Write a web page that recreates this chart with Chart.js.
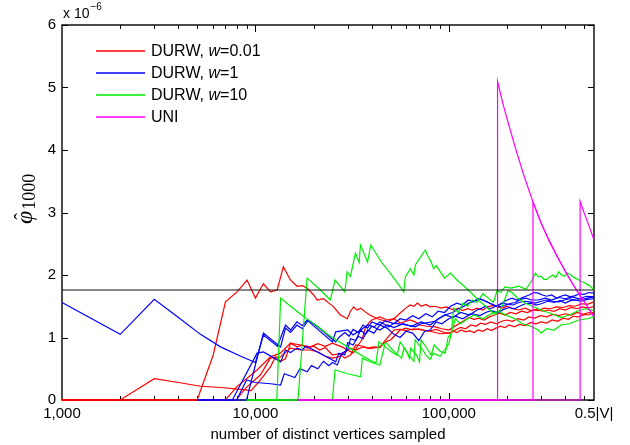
<!DOCTYPE html>
<html>
<head>
<meta charset="utf-8">
<script src="https://cdn.jsdelivr.net/npm/chart.js@4.4.1/dist/chart.umd.min.js"></script>
<style>
  html, body { margin: 0; padding: 0; background: #fff; }
  #wrap { width: 630px; height: 445px; }
</style>
</head>
<body>
<div id="wrap"><canvas id="phiChart" width="630" height="445"></canvas></div>
<script>
// x = distinct vertices sampled, y = estimate in units of 1e-6
const trueValue = 1.76;
const xMin = 1000, xMax = 563000;
const xTickValues = [1000, 10000, 100000, 563000];
const xTickLabels = ['1,000', '10,000', '100,000', '0.5|V|'];
const yTickValues = [0, 1, 2, 3, 4, 5, 6];
const seriesNames = ['DURW, w=0.01', 'DURW, w=1', 'DURW, w=10', 'UNI'];
const seriesColors = ['#ff0000', '#0000ff', '#00ee00', '#ff00ff'];

// DURW, w=0.01 runs: [n, estimate]
const durwW001Runs = [
  [[1000,0],[2000,0],[3000,0.34],[4000,0.28],[5200,0.22],[6600,0.2],[8400,0.17],[9500,0.15],[10600,0.32],[11950,0.53],[12700,0.69],[13500,0.62],[14300,0.66],[15200,0.91],[16400,0.85],[17500,0.88],[18500,0.83],[20000,0.86],[21500,0.8],[23000,0.84],[25000,0.72],[27000,0.74],[29000,0.67],[31000,0.72],[33000,0.88],[36000,0.86],[38000,0.83],[41000,0.85],[44000,0.84],[47000,0.96],[52000,1.12],[56000,1.13],[60000,1.11],[66000,1.14],[72000,1.12],[80000,1.1],[90000,1.06],[100000,1.07],[105000,1.1],[110000,1.08],[116000,1.12],[122000,1.09],[128000,1.11],[135000,1.08],[142000,1.12],[150000,1.1],[158000,1.14],[166000,1.11],[175000,1.15],[185000,1.18],[195000,1.16],[205000,1.2],[218000,1.17],[232000,1.21],[248000,1.19],[265000,1.24],[282000,1.22],[300000,1.25],[320000,1.23],[342000,1.28],[365000,1.26],[390000,1.31],[415000,1.29],[440000,1.34],[470000,1.33],[500000,1.37],[530000,1.36],[563000,1.41]],
  [[1000,0],[5000,0],[6050,0.72],[7000,1.57],[8040,1.73],[9050,1.92],[10000,1.63],[11000,1.86],[11960,1.73],[12950,1.76],[13950,2.13],[15170,1.92],[16430,1.82],[17500,1.83],[18520,1.79],[20000,1.68],[20880,1.6],[22500,1.62],[24000,1.55],[25360,1.49],[27500,1.36],[29850,1.3],[31000,1.42],[32200,1.49],[33500,1.44],[35000,1.47],[37000,1.41],[39000,1.36],[42700,1.3],[45000,1.28],[48000,1.25],[52000,1.3],[56400,1.4],[60000,1.47],[63000,1.52],[66000,1.5],[68800,1.55],[72000,1.5],[76000,1.53],[80000,1.49],[85000,1.5],[90900,1.47],[97000,1.49],[106000,1.44],[112000,1.47],[118000,1.43],[125000,1.46],[132000,1.44],[140000,1.47],[150000,1.44],[158000,1.49],[168000,1.51],[179000,1.49],[190000,1.47],[200000,1.5],[215000,1.46],[230000,1.44],[248000,1.47],[265000,1.43],[285000,1.45],[305000,1.42],[325000,1.44],[350000,1.42],[375000,1.46],[400000,1.44],[430000,1.48],[460000,1.46],[490000,1.49],[525000,1.47],[563000,1.5]],
  [[1000,0],[7000,0],[8000,0.21],[10200,0.48],[11950,0.69],[13460,0.75],[15170,0.91],[17080,0.88],[19240,0.85],[21000,0.9],[23000,0.86],[25000,0.91],[28000,0.85],[30000,0.8],[32000,0.75],[34000,0.88],[35500,0.96],[37000,1.15],[38500,1.23],[40000,1.28],[44000,1.33],[48000,1.28],[52000,1.3],[56000,1.23],[60000,1.26],[63000,1.28],[67000,1.25],[71000,1.2],[77000,1.18],[85000,1.17],[92000,1.14],[100000,1.12],[106000,1.17],[113000,1.22],[120000,1.27],[127000,1.32],[135000,1.29],[143000,1.31],[152000,1.28],[162000,1.33],[172000,1.36],[183000,1.39],[195000,1.36],[208000,1.4],[222000,1.38],[238000,1.42],[255000,1.4],[272000,1.44],[290000,1.43],[310000,1.47],[335000,1.46],[360000,1.49],[390000,1.48],[420000,1.51],[450000,1.5],[485000,1.54],[520000,1.53],[563000,1.57]],
  [[1000,0],[7950,0],[8900,0.19],[10600,0.4],[11950,0.67],[13460,0.69],[15170,0.83],[17080,0.8],[19240,0.8],[21000,0.77],[23000,0.7],[25000,0.67],[27000,0.69],[29000,0.76],[31000,0.83],[33000,0.8],[36000,0.85],[39000,0.82],[44000,0.85],[47000,0.93],[50000,0.96],[53000,1.04],[56000,1.12],[60000,1.15],[65000,1.12],[70000,1.14],[78000,1.1],[86000,1.13],[95000,1.08],[102000,1.07],[108000,1.12],[115000,1.16],[122000,1.14],[130000,1.2],[138000,1.18],[146000,1.23],[155000,1.21],[165000,1.25],[176000,1.22],[188000,1.26],[200000,1.28],[213000,1.26],[228000,1.3],[244000,1.28],[260000,1.33],[278000,1.31],[298000,1.35],[320000,1.33],[345000,1.37],[370000,1.35],[400000,1.38],[430000,1.36],[460000,1.4],[495000,1.37],[530000,1.4],[563000,1.39]]
];

// DURW, w=1 runs
const durwW1Runs = [
  [[1000,1.56],[2000,1.05],[3000,1.61],[4000,1.32],[5200,1.05],[6600,0.85],[8400,0.7],[10000,0.6],[11000,1.04],[13000,0.86],[14300,1.2],[15200,1.12],[16400,1.25],[17500,1.19],[18500,1.28],[21000,1.13],[25000,0.93],[26000,1.09],[30000,1.12],[32000,1.04],[35000,1.12],[38000,1.2],[41000,1.17],[44000,1.25],[49000,1.17],[52000,1.23],[60000,1.2],[67000,1.17],[72000,1.22],[85000,1.26],[95000,1.36],[105000,1.4],[112000,1.46],[120000,1.5],[127000,1.55],[135000,1.58],[142000,1.62],[150000,1.6],[160000,1.56],[170000,1.52],[180000,1.49],[190000,1.5],[205000,1.54],[220000,1.56],[235000,1.61],[250000,1.63],[268000,1.6],[290000,1.6],[315000,1.63],[340000,1.6],[370000,1.64],[400000,1.62],[435000,1.65],[470000,1.62],[515000,1.66],[563000,1.65]],
  [[5000,0],[9000,0],[11000,1.07],[13500,0.85],[14300,1.15],[15200,1.08],[16400,1.2],[17500,1.14],[18800,1.28],[20000,1.22],[22000,1.12],[24000,1.02],[26000,0.93],[27000,1.0],[29000,1.08],[30500,1.02],[32000,1.13],[34000,1.08],[36000,1.2],[38000,1.15],[40000,1.25],[44000,1.2],[47000,1.27],[52000,1.22],[56000,1.3],[60000,1.28],[65000,1.35],[70000,1.3],[76000,1.38],[82000,1.33],[88000,1.42],[95000,1.4],[102000,1.5],[110000,1.55],[118000,1.52],[126000,1.6],[135000,1.57],[145000,1.62],[155000,1.58],[165000,1.54],[178000,1.5],[190000,1.56],[200000,1.6],[212000,1.63],[225000,1.6],[240000,1.64],[260000,1.68],[275000,1.72],[290000,1.71],[305000,1.68],[320000,1.66],[340000,1.68],[360000,1.63],[380000,1.66],[400000,1.68],[425000,1.65],[450000,1.67],[475000,1.7],[500000,1.69],[530000,1.72],[563000,1.71]],
  [[5000,0],[7600,0],[10200,0.75],[11000,0.77],[13500,0.61],[14300,0.8],[15200,0.76],[16400,0.83],[17500,0.8],[18200,0.86],[20000,0.8],[23000,0.7],[26000,0.61],[27000,0.75],[29000,0.72],[30000,0.92],[32000,0.88],[34000,1.02],[36000,0.98],[38000,1.12],[41000,1.07],[44000,1.2],[48000,1.15],[52000,1.05],[56000,1.0],[60000,1.1],[65000,1.07],[70000,0.95],[75000,1.1],[80000,1.12],[86000,1.25],[92000,1.22],[100000,1.3],[108000,1.34],[118000,1.3],[130000,1.38],[145000,1.35],[155000,1.4],[165000,1.43],[180000,1.4],[192000,1.45],[205000,1.48],[218000,1.46],[232000,1.5],[248000,1.54],[265000,1.55],[282000,1.52],[300000,1.54],[325000,1.58],[350000,1.56],[375000,1.59],[400000,1.55],[425000,1.59],[450000,1.6],[480000,1.58],[520000,1.61],[563000,1.62]],
  [[5000,0],[8000,0],[9000,0.32],[10000,0.28],[12000,0.26],[13500,0.24],[14100,0.42],[16000,0.36],[17000,0.5],[18500,0.45],[19500,0.55],[21000,0.5],[22500,0.62],[24000,0.55],[25000,0.6],[26500,0.56],[28000,0.75],[30000,0.8],[31000,0.98],[33000,0.95],[35000,1.12],[37000,1.05],[40000,1.18],[44000,1.12],[48000,1.2],[52000,1.16],[58000,1.22],[64000,1.18],[72000,1.25],[80000,1.2],[88000,1.3],[96000,1.36],[105000,1.32],[115000,1.4],[128000,1.36],[140000,1.44],[148000,1.47],[155000,1.5],[162000,1.46],[170000,1.48],[180000,1.52],[190000,1.55],[202000,1.53],[215000,1.52],[230000,1.56],[245000,1.58],[262000,1.57],[280000,1.55],[300000,1.58],[320000,1.6],[345000,1.58],[370000,1.57],[395000,1.6],[420000,1.62],[450000,1.6],[480000,1.6],[520000,1.63],[563000,1.65]]
];

// DURW, w=10 runs
const durwW10Runs = [
  [[9000,0],[12900,0],[13500,1.63],[15200,1.5],[17000,1.38],[19000,1.27],[21000,1.18],[23000,1.08],[25000,1.0],[27500,0.92],[30000,0.85],[33000,0.77],[36000,0.7],[39000,0.64],[42000,0.59],[43500,0.93],[47000,0.85],[51000,0.76],[54000,0.72],[56000,0.93],[60000,0.8],[62500,0.67],[63500,0.83],[68000,0.72],[70500,0.61],[72000,0.96],[78000,0.8],[81000,0.72],[84000,0.88],[90000,0.78],[96000,0.75],[99000,1.0],[103000,1.07],[106000,1.47],[112000,1.4],[118000,1.55],[125000,1.5],[132000,1.6],[140000,1.56],[150000,1.7],[160000,1.63],[170000,1.56],[178000,1.76],[185000,1.72],[195000,1.81],[210000,1.79],[230000,1.82],[250000,1.77],[265000,1.88],[272000,1.95],[280000,2.03],[290000,1.97],[300000,1.98],[310000,1.93],[320000,1.93],[332000,1.97],[345000,2.0],[357000,1.96],[370000,2.05],[382000,2.0],[395000,1.98],[408000,2.03],[420000,2.02],[435000,1.98],[450000,1.95],[465000,1.93],[480000,1.9],[500000,1.88],[520000,1.85],[540000,1.82],[563000,1.76]],
  [[9000,0],[16600,0],[18500,1.95],[21000,1.8],[24400,1.6],[25800,1.92],[29000,1.73],[29800,2.05],[31000,1.98],[32900,2.35],[34400,2.2],[34900,2.48],[38000,2.21],[39500,2.48],[45000,2.2],[52000,1.95],[58500,1.73],[59600,1.97],[63200,2.1],[66000,2.0],[67100,2.16],[75500,2.4],[78000,2.3],[81000,2.21],[83500,2.1],[86000,2.15],[95000,1.95],[102000,2.03],[110000,1.92],[120000,1.82],[130000,1.72],[142000,1.6],[155000,1.5],[165000,1.42],[175000,1.37],[185000,1.45],[195000,1.62],[202000,1.75],[212000,1.72],[225000,1.64],[245000,1.56],[270000,1.5],[300000,1.44],[340000,1.38],[380000,1.32],[420000,1.36],[460000,1.42],[510000,1.46],[563000,1.43]],
  [[9000,0],[25000,0],[25800,0.48],[30000,0.42],[35000,0.37],[35700,0.67],[40000,0.6],[44000,0.56],[47000,0.93],[52000,0.78],[57000,0.67],[58500,0.83],[66000,0.62],[67000,0.96],[74000,0.78],[76000,0.72],[80000,0.65],[83000,0.75],[90000,0.7],[95000,0.8],[100000,0.9],[104000,1.12],[108000,1.3],[115000,1.22],[125000,1.3],[135000,1.36],[150000,1.3],[165000,1.38],[180000,1.42],[200000,1.35],[220000,1.3],[240000,1.22],[265000,1.18],[290000,1.12],[300000,1.07],[320000,1.14],[350000,1.12],[380000,1.2],[420000,1.22],[470000,1.28],[520000,1.3],[563000,1.33]]
];

// UNI runs
const uniRuns = [
  [[16500,0],[178500,0],[178600,5.1],[190000,4.75],[200000,4.5],[220000,4.05],[245000,3.58],[272300,3.17],[300000,2.83],[330000,2.55],[360000,2.32],[400000,2.06],[440000,1.84],[480000,1.66],[520000,1.5],[563000,1.33]],
  [[16500,0],[272200,0],[272300,3.17],[300000,2.83],[330000,2.55],[360000,2.32],[400000,2.06],[440000,1.84],[480000,1.66],[520000,1.5],[563000,1.33]],
  [[16500,0],[477000,0],[477300,3.18],[500000,3.0],[530000,2.79],[563000,2.56]]
];

const groups = [durwW001Runs, durwW1Runs, durwW10Runs, uniRuns];
const datasets = [];
groups.forEach((runs, g) => {
  runs.forEach(run => {
    datasets.push({
      label: seriesNames[g],
      data: run.map(p => ({ x: p[0], y: p[1] })),
      borderColor: seriesColors[g],
      borderWidth: 1.2,
      pointRadius: 0,
      tension: 0,
      clip: 2,
      order: 4 - g
    });
  });
});
// reference level, drawn on top
datasets.push({
  label: 'true value',
  data: [{ x: xMin, y: trueValue }, { x: xMax, y: trueValue }],
  borderColor: '#111',
  borderWidth: 1.2,
  pointRadius: 0,
  order: 0
});

const sans = "'Liberation Sans', Arial, Helvetica, sans-serif";
const serif = "'Liberation Serif', 'Times New Roman', serif";

// box and inward ticks under the lines
const framePlugin = {
  id: 'frame',
  beforeDatasetsDraw(chart) {
    const { ctx, chartArea: a, scales: { x, y } } = chart;
    ctx.save();
    ctx.strokeStyle = '#000';
    ctx.lineWidth = 1;
    ctx.beginPath();
    yTickValues.forEach(v => {
      const py = Math.round(y.getPixelForValue(v)) + 0.5;
      ctx.moveTo(a.left, py); ctx.lineTo(a.left + 6, py);
      ctx.moveTo(a.right, py); ctx.lineTo(a.right - 6, py);
    });
    for (let d = 1000; d < xMax; d *= 10) {
      for (let k = 1; k < 10; k++) {
        const v = d * k;
        if (v <= xMin || v >= xMax) continue;
        const len = k === 1 ? 7 : 4;
        const px = Math.round(x.getPixelForValue(v)) + 0.5;
        ctx.moveTo(px, a.bottom); ctx.lineTo(px, a.bottom - len);
        ctx.moveTo(px, a.top); ctx.lineTo(px, a.top + len);
      }
    }
    ctx.stroke();
    ctx.lineWidth = 1.4;
    ctx.strokeRect(a.left, a.top, a.right - a.left, a.bottom - a.top);
    ctx.restore();
  }
};

// legend, multiplier and y label on top
const labelsPlugin = {
  id: 'labels',
  afterDraw(chart) {
    const ctx = chart.ctx;
    ctx.save();

    const rowY = [51, 73, 95, 117];
    seriesNames.forEach((name, i) => {
      ctx.beginPath();
      ctx.strokeStyle = seriesColors[i];
      ctx.lineWidth = 1.5;
      ctx.moveTo(96, rowY[i]);
      ctx.lineTo(145, rowY[i]);
      ctx.stroke();
    });

    ctx.fillStyle = '#000';
    ctx.textBaseline = 'middle';
    seriesNames.forEach((name, i) => {
      let tx = 151;
      name.split(/(w)(?==)/).forEach(part => {
        ctx.font = (part === 'w' ? 'italic ' : '') + '16px ' + sans;
        ctx.fillText(part, tx, rowY[i] + 1);
        tx += ctx.measureText(part).width;
      });
    });

    ctx.textBaseline = 'alphabetic';
    ctx.font = '14px ' + sans;
    ctx.fillText('x 10', 63, 18);
    const w = ctx.measureText('x 10').width;
    ctx.font = '10px ' + sans;
    ctx.fillText('\u22126', 63 + w + 1, 10);

    // phi-hat with subscript 1000, reading upward
    ctx.translate(32, 224);
    ctx.rotate(-Math.PI / 2);
    ctx.font = 'italic 24px ' + serif;
    ctx.fillText('\u03C6', 0, 0);
    const pw = ctx.measureText('\u03C6').width;
    ctx.font = '20px ' + serif;
    const hw = ctx.measureText('\u02C6').width;
    ctx.fillText('\u02C6', pw / 2 - hw / 2 + 1, -3);
    ctx.font = '18px ' + serif;
    ctx.fillText('1000', pw + 1, 3);
    ctx.restore();
  }
};

new Chart(document.getElementById('phiChart'), {
  type: 'line',
  data: { datasets },
  plugins: [framePlugin, labelsPlugin],
  options: {
    responsive: false,
    animation: false,
    events: [],
    layout: { padding: { top: 25, right: 36, left: 0, bottom: 0 } },
    plugins: { legend: { display: false }, tooltip: { enabled: false } },
    scales: {
      x: {
        type: 'logarithmic',
        min: xMin,
        max: xMax,
        afterBuildTicks: s => { s.ticks = xTickValues.map(v => ({ value: v })); },
        afterFit: s => { s.height = 45; },
        grid: { display: false, drawTicks: false },
        border: { display: false },
        ticks: {
          autoSkip: false, maxRotation: 0, padding: 5, color: '#000',
          font: { family: sans, size: 15 },
          callback: (v, i) => xTickLabels[i]
        },
        title: {
          display: true, text: 'number of distinct vertices sampled', color: '#000',
          font: { family: sans, size: 15 }, padding: { top: 0, bottom: 1 }
        }
      },
      y: {
        min: 0,
        max: 6,
        afterBuildTicks: s => { s.ticks = yTickValues.map(v => ({ value: v })); },
        afterFit: s => { s.width = 62; },
        grid: { display: false, drawTicks: false },
        border: { display: false },
        ticks: { padding: 6, color: '#000', font: { family: sans, size: 15 } }
      }
    }
  }
});
</script>
</body>
</html>
